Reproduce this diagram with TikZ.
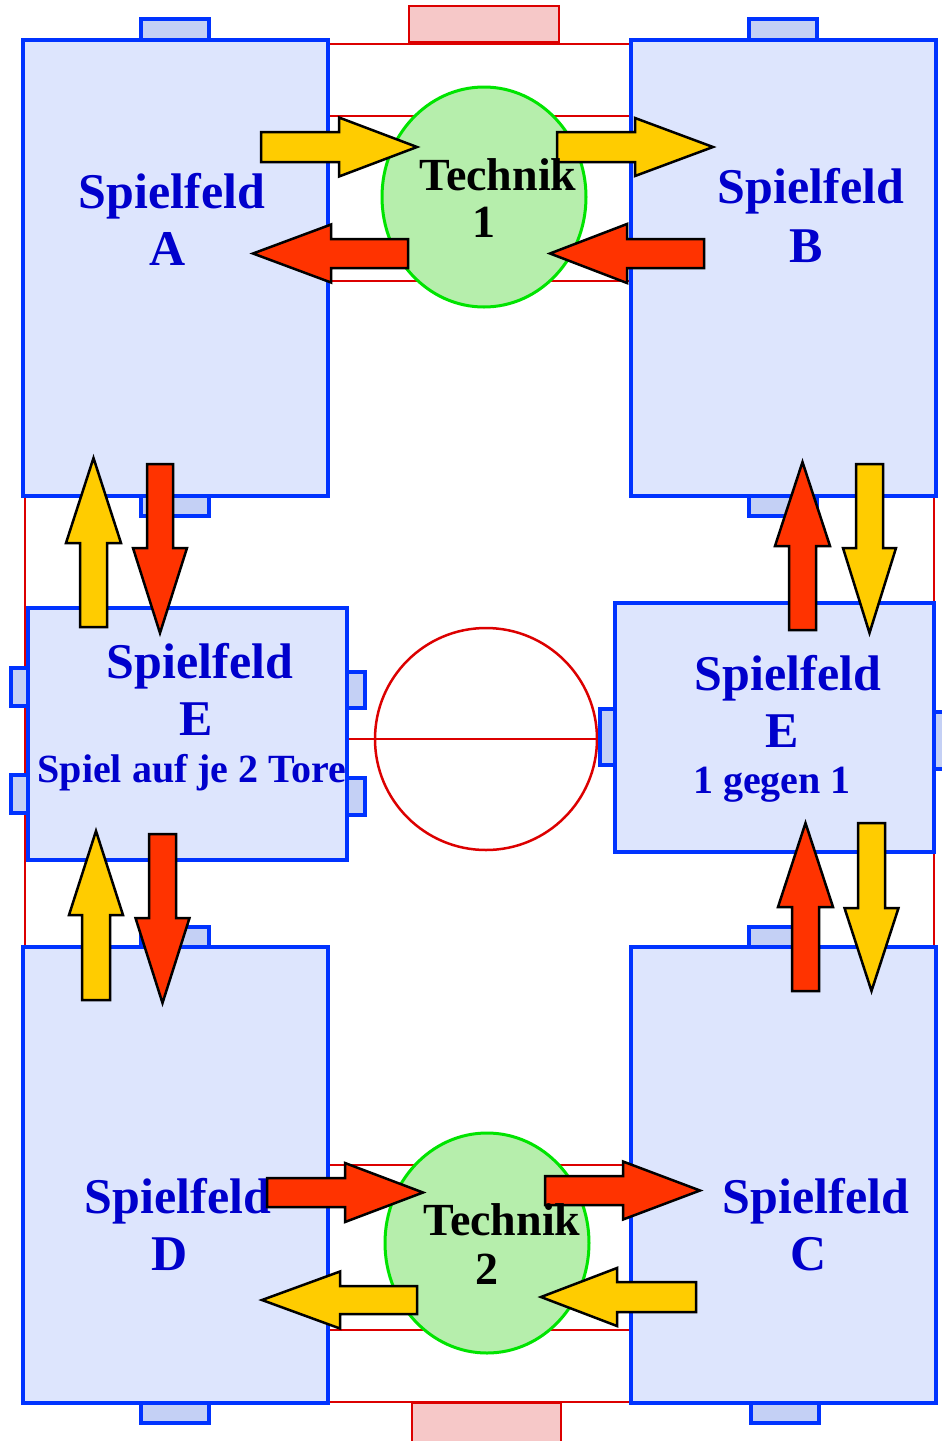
\documentclass[tikz,border=0pt]{standalone}
\usepackage{fontspec}
\setmainfont{Liberation Serif}
\usetikzlibrary{shapes.geometric}
\definecolor{fieldfill}{RGB}{221,229,253}
\definecolor{fieldborder}{RGB}{0,51,255}
\definecolor{goalfill}{RGB}{196,208,245}
\definecolor{textblue}{RGB}{0,0,204}
\definecolor{pitchred}{RGB}{220,0,0}
\definecolor{goalpink}{RGB}{246,200,200}
\definecolor{techfill}{RGB}{182,238,172}
\definecolor{techborder}{RGB}{0,228,0}
\definecolor{ayellow}{RGB}{255,204,0}
\definecolor{ared}{RGB}{255,51,0}
\tikzset{
  pitchline/.style={draw=pitchred, line width=2.5pt},
  bigoal/.style={draw=pitchred, line width=2.5pt, fill=goalpink},
  smallgoal/.style={draw=fieldborder, line width=4pt, fill=goalfill},
  field/.style={draw=fieldborder, line width=4.5pt, fill=fieldfill, rectangle, inner sep=0pt},
  tech/.style={draw=techborder, line width=3pt, fill=techfill, ellipse, inner sep=0pt},
  blockarrow/.style={draw=black, line width=2.5pt, line join=miter},
  bigtxt/.style={text=textblue, font=\bfseries\fontsize{50}{60}\selectfont, inner sep=0pt, anchor=base},
  smalltxt/.style={text=textblue, font=\bfseries\fontsize{40}{48}\selectfont, inner sep=0pt, anchor=base},
  techtxt/.style={text=black, font=\bfseries\fontsize{46}{55}\selectfont, inner sep=0pt, anchor=base},
}
\newcommand\harr[7]{\filldraw[blockarrow,fill=#1] (#2,#4-#5)--(#7,#4-#5)--(#7,#4-#6)--(#3,#4)--(#7,#4+#6)--(#7,#4+#5)--(#2,#4+#5)--cycle;}
\newcommand\varr[7]{\filldraw[blockarrow,fill=#1] (#2-#5,#3)--(#2-#5,#7)--(#2-#6,#7)--(#2,#4)--(#2+#6,#7)--(#2+#5,#7)--(#2+#5,#3)--cycle;}
\begin{document}
\begin{tikzpicture}[x=1pt,y=-1pt]
\useasboundingbox[fill=white] (0,0) rectangle (942,1441);
% pitch
\draw[pitchline] (25,44) rectangle (934,1402);
\draw[pitchline] (25,739) -- (934,739);
\draw[pitchline] (486,739) circle[radius=111];
\draw[pitchline] (300,116) rectangle (660,281);
\draw[pitchline] (300,1165) rectangle (660,1330);
\draw[bigoal] (409,6) rectangle (559,42);
\draw[bigoal] (412,1403) rectangle (561,1450);
% small goals
\draw[smallgoal] (141,19) rectangle (209,40);
\draw[smallgoal] (749,19) rectangle (817,40);
\draw[smallgoal] (141,496) rectangle (209,516);
\draw[smallgoal] (749,496) rectangle (817,516);
\draw[smallgoal] (141,927) rectangle (209,947);
\draw[smallgoal] (749,927) rectangle (817,947);
\draw[smallgoal] (141,1403) rectangle (209,1423);
\draw[smallgoal] (751,1403) rectangle (819,1423);
\draw[smallgoal] (11,668) rectangle (28,706);
\draw[smallgoal] (11,775) rectangle (28,813);
\draw[smallgoal] (347,672) rectangle (365,708);
\draw[smallgoal] (347,778) rectangle (365,815);
\draw[smallgoal] (600,709) rectangle (615,765);
\draw[smallgoal] (934,712) rectangle (952,769);
% fields
\node[field, minimum width=305pt, minimum height=456pt] (A) at (175.5,268) {};
\node[field, minimum width=305pt, minimum height=456pt] (B) at (783.5,268) {};
\node[field, minimum width=319pt, minimum height=252pt] (EL) at (187.5,734) {};
\node[field, minimum width=319pt, minimum height=249pt] (ER) at (774.5,727.5) {};
\node[field, minimum width=305pt, minimum height=456pt] (D) at (175.5,1175) {};
\node[field, minimum width=305pt, minimum height=456pt] (C) at (783.5,1175) {};
% technik
\node[tech, minimum width=204pt, minimum height=220pt] (T1) at (484,197) {};
\node[tech, minimum width=204pt, minimum height=220pt] (T2) at (487,1243) {};
% field labels
\node[bigtxt] (A1) at (172,208) {Spielfeld};
\node[bigtxt] (A2) at (168,265) {A};
\node[bigtxt] (B1) at (811,203) {Spielfeld};
\node[bigtxt] (B2) at (806,262) {B};
\node[bigtxt] (EL1) at (200,678) {Spielfeld};
\node[bigtxt] (EL2) at (196,735) {E};
\node[smalltxt] (EL3) at (192,782) {Spiel auf je 2 Tore};
\node[bigtxt] (ER1) at (788,690) {Spielfeld};
\node[bigtxt] (ER2) at (782,747) {E};
\node[smalltxt] (ER3) at (772,793) {1 gegen 1};
\node[bigtxt] (D1) at (178,1213) {Spielfeld};
\node[bigtxt] (D2) at (170,1270) {D};
\node[bigtxt] (C1) at (816,1213) {Spielfeld};
\node[bigtxt] (C2) at (809,1270) {C};
% arrows
\harr{ayellow}{261}{417}{147}{15}{29.5}{339}
\harr{ared}{408}{253}{253.5}{14.5}{29}{331}
\harr{ayellow}{557}{713}{147}{15}{29}{635}
\harr{ared}{704}{550}{253.5}{14.5}{29.5}{627}
\harr{ared}{267}{423}{1192.5}{14.5}{29.5}{345}
\harr{ared}{545}{700}{1190.5}{14.5}{29}{623}
\harr{ayellow}{417}{262}{1300}{14}{28.5}{340}
\harr{ayellow}{696}{541}{1297}{15}{29}{617}
\varr{ayellow}{93.5}{627}{458}{13.5}{27.5}{543}
\varr{ared}{160}{464}{633}{13}{27}{548}
\varr{ayellow}{96}{1000}{831}{14}{27}{915}
\varr{ared}{162.5}{834}{1003}{13.5}{27}{918}
\varr{ared}{802.5}{630}{462}{13.5}{27.5}{546}
\varr{ayellow}{869.5}{464}{633}{13.5}{26.5}{548}
\varr{ared}{805.5}{991}{823}{13.5}{27.5}{907}
\varr{ayellow}{871.5}{823}{991}{13.5}{27}{908}
% technik labels
\node[techtxt] (T1a) at (498,190) {Technik};
\node[techtxt] (T1b) at (484,237) {1};
\node[techtxt] (T2a) at (502,1235) {Technik};
\node[techtxt] (T2b) at (487,1284) {2};
\end{tikzpicture}
\end{document}
